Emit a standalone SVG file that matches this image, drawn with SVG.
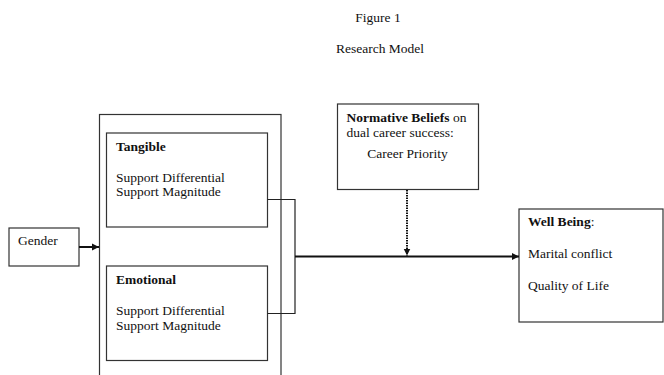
<svg xmlns="http://www.w3.org/2000/svg" width="664" height="375" viewBox="0 0 664 375">
<defs>
<style>
text{font-family:"Liberation Serif","Times New Roman",serif;font-size:13.5px;fill:#111}
.b{font-weight:bold}
.box{fill:#fff;stroke:#333;stroke-width:1.2}
.ln{fill:none;stroke:#222;stroke-width:1.2}
.thick{fill:none;stroke:#111;stroke-width:2}
.dot{fill:none;stroke:#111;stroke-width:2;stroke-dasharray:1.5 1}
</style>
<marker id="ah" markerWidth="8" markerHeight="8" refX="7" refY="4" orient="auto" markerUnits="userSpaceOnUse">
<path d="M0,0.5 L7,4 L0,7.5 Z" fill="#111"/>
</marker>
</defs>
<rect width="664" height="375" fill="#fff"/>
<text x="378" y="21.5" text-anchor="middle">Figure 1</text>
<text x="380" y="53" text-anchor="middle">Research Model</text>

<g id="support">
<rect class="box" x="99.5" y="114.5" width="181.5" height="270"/>
</g>
<g id="gender">
<rect class="box" x="9" y="228" width="70" height="38"/>
<text x="18" y="245">Gender</text>
</g>
<g id="tangible">
<rect class="box" x="106.5" y="133" width="161" height="94"/>
<text x="116" y="151" class="b">Tangible</text>
<text x="116" y="182">Support Differential</text>
<text x="116" y="196">Support Magnitude</text>
</g>
<g id="emotional">
<rect class="box" x="106.5" y="266" width="161" height="94.5"/>
<text x="116" y="284" class="b">Emotional</text>
<text x="116" y="315">Support Differential</text>
<text x="116" y="330">Support Magnitude</text>
</g>
<g id="normative">
<rect class="box" x="337.5" y="104" width="141" height="85.5"/>
<text x="346.5" y="122"><tspan class="b">Normative Beliefs</tspan> on</text>
<text x="346.5" y="137">dual career success:</text>
<text x="407.5" y="158" text-anchor="middle">Career Priority</text>
</g>
<g id="wellbeing">
<rect class="box" x="519" y="209" width="144" height="113"/>
<text x="528" y="226"><tspan class="b">Well Being</tspan>:</text>
<text x="528" y="258">Marital conflict</text>
<text x="528" y="290">Quality of Life</text>
</g>

<g id="connectors">
<line class="thick" x1="79" y1="247" x2="99" y2="247" marker-end="url(#ah)"/>
<polyline class="ln" points="267.5,199.5 295,199.5 295,313.5 267.5,313.5"/>
<line class="thick" x1="295" y1="256.5" x2="519" y2="256.5" marker-end="url(#ah)"/>
<line class="dot" x1="407" y1="190" x2="407" y2="255.5" marker-end="url(#ah)"/>
</g>
</svg>
